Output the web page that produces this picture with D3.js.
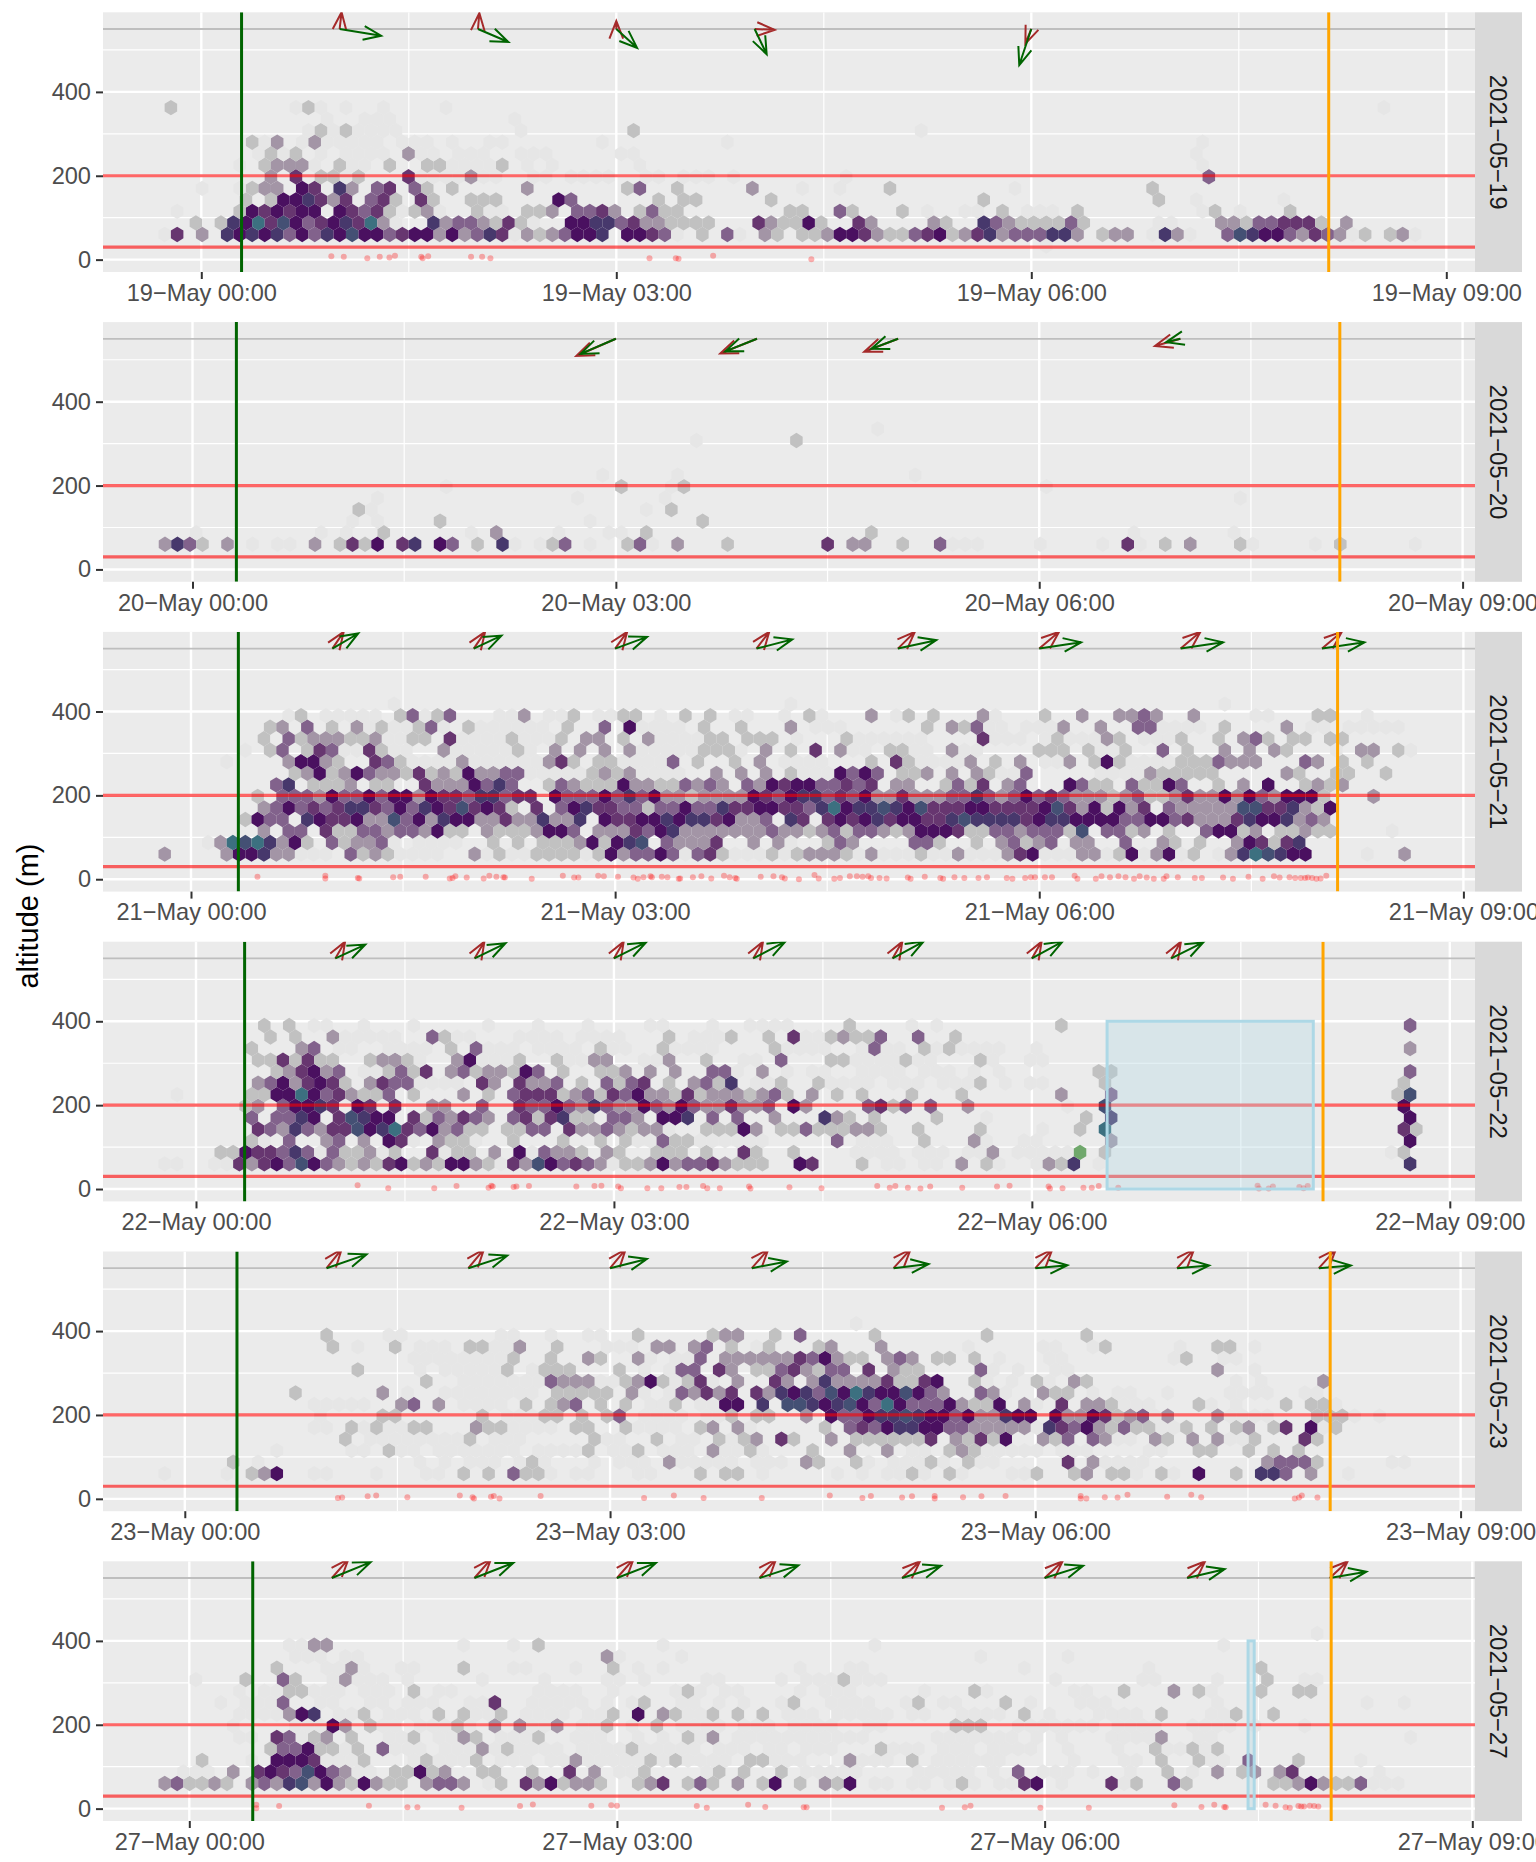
<!DOCTYPE html>
<html>
<head>
<meta charset="utf-8">
<script src="https://d3js.org/d3.v7.min.js"></script>
<style>
  html, body { margin: 0; padding: 0; background: #fff; overflow: hidden; }
  svg { display: block; font-family: "Liberation Sans", Arial, sans-serif; }
</style>
</head>
<body>
<svg id="chart" width="1536" height="1862"></svg>
<script>
// hex rows: index = altitude row, tokens are "column:counts" (one hex digit per neighbouring hex)
const hex19 = [
  "70:1",
  "0:15 3:3 5:76767464768664566363475 28:13234667 37:66541 43:2 45:41 48:32 51:22 53:366532245623573444773 75:233 79:1731 85:487664354312 98:23 100:1",
  "2:2 4:2 5:769 8:586 11:4 12:567 15:593 18:1 21:7 22:34432 27:5 28:21 32:6677 36:45332 41:222 47:5 48:32 50:2 51:62 55:53 61:32 65:743222 71:24 73:2 79:11 84:332 87:44555 92:2 94:3",
  "1:1 6:2 7:65656 12:6 14:6545 18:2 20:23 25:211 29:2 30:23 33:445 36:3 38:242 41:2 50:22 54:42 59:2 61:1 64:11 67:2 69:111 73:2 83:12 86:1 90:2",
  "6:2 8:2 9:66753 14:5 16:45 18:2 20:52 24:22 26:2 31:64 39:2 41:22 48:2 65:2 79:2 82:1 89:1",
  "3:1 6:1 7:2 8:33 11:65 14:73 17:45 20:42 23:2 29:3 37:24 41:2 47:3 51:1 54:1 58:2 68:1 79:2",
  "8:3 10:5 12:22 15:2 19:5 24:3 32:11 34:1 35:1 38:11 41:111 45:1 54:1 83:4",
  "8:2 9:333 14:2 18:2 21:22 27:2 29:1 31:1 38:1 83:1",
  "7:12 10:2 19:3 23:1 30:1 36:11 82:1",
  "7:2 9:3 12:3 21:1 27:1 35:1 45:1 83:1",
  "12:2 14:2 16:11 28:1 37:2 60:1",
  "17:1 28:1",
  "0:2 10:121 14:1 17:1 22:1 97:1"
];
const hex20 = [
  "",
  "0:3742 5:3 7:1 9:11 12:3 14:2526 19:57 22:64 25:2 27:71 30:124 34:1 37:241 41:3 45:2 53:5 55:33 59:2 62:4111 70:1 75:1 77:51 80:2 82:3 86:21 92:1 94:2 100:1",
  "2:1 12:1 14:1 17:2 24:1 26:3 31:1 35:1 36:1 38:2 56:2 77:1 85:1",
  "15:1 17:1 22:2 34:1 43:2",
  "15:21 38:1 40:2",
  "17:1 33:1 40:1 86:1",
  "22:1 36:2 40:12 70:1",
  "35:1 41:1 60:1",
  "",
  "",
  "42:1 50:2",
  "57:1"
];
const hex21 = [
  "",
  "0:3 5:36673 10:3111 15:42321 20:111 25:31211 30:2222126344 40:6414521112 50:1233321311 60:1211311135 70:6111331261 80:3612 85:13798 90:766 97:1 100:3",
  "3:139897362 13:423341 20:1111 26:2 28:2 30:2223 34:62678 40:43335 47:3 49:31 53:243 60:44 62:2 65:2 67:34234 73:33 77:4 80:32 83:2 86:3652 90:57",
  "8:3 10:44 13:52244 18:3443 22:622 26:3222 30:3664 35:333 38:5467 42:3333333 49:43 51:3 52:234244 58:323666 64:522443 70:4442 74:8 76:44 78:23 81:2 84:46623 90:22322 99:1",
  "6:2644 11:7655 15:6338 19:463 22:766 25:3353 29:373 32:37 35:655 38:66767 43:7563 47:34 50:75 53:5656 57:75665 62:5787 66:77 68:7567 72:76666 77:4466 81:4533 85:3576 89:67343 93:3",
  "8:346 11:4545 15:7754 19:647 22:658 25:5652 30:5 32:467 35:55442 40:4464 44:4755 48:66554 53:79 55:677 58:87685 63:55665 68:5556 72:853 75:626 78:35 81:43333 86:388 89:5573 93:26",
  "7:2 9:4443 13:644 16:64 18:663 21:655 24:4774 28:55 31:6444 35:64 37:7463 41:323 44:33 46:3654 50:6774 54:5463 58:353 61:33447 66:434 69:6454 73:33323 78:42235 83:3363 87:6436 91:662 97:3",
  "9:47 12:2223 17:22 21:5333 25:6474 31:243222 37:633224 43:343 47:436 50:56644 55:54 57:5 59:33 63:2425 68:3 69:4 73:6422 78:42264 85:2 87:3 89:6 92:2323",
  "10:236 13:236 16:4332 20:5232 24:6334 28:4 34:2323 44:3 46:3 48:3 50:2 54:6464 59:223 63:3 65:32 69:4 79:322222 90:32 94:22 98:2",
  "10:36632 17:542 24:3 31:352 35:22 41:4 43:2 46:2 48:3 57:2 59:52 65:3 67:2 69:3 73:3 75:262 82:22243 87:33 92:43 95:2 97:2",
  "8:24 11:254 16:52 22:3 28:2 31:3 33:3 35:3 37:3 43:222 48:3 50:2 52:5 54:3 58:22 63:3 70:222 74:2 77:2 80:4 82:2 85:3 87:3 89:32 96:33 99:21",
  "8:2 10:42333223 20:22 23:5 28:2 32:2 34:33 37:2 39:3 44:22 47:222 55:2 66:5 71:12 76:32 82:2 85:2 87:342 91:22 94:22",
  "8:23 11:4 13:2 15:3 17:2 20:24 24:2 32:2 35:4 37:6 43:2 46:2 50:3 61:2 63:324 72:3 75:3 78:44 85:2 90:3 95:11111",
  "10:12 13:11111 19:24124 27:113 31:112 35:11 37:22 40:1 42:2 44:2 46:11 50:1 52:21 57:3 59:12 62:2 66:31 71:2 74:3 77:3343 83:3 88:11 93:22 97:1",
  "18:1 50:1 85:1"
];
const hex22 = [
  "",
  "0:11 4:115356486432325623266321538645431223634453222 51:65 56:2 58:11 61:11 64:3 66:21 70:1327 75:1 100:7",
  "4:226554741 13:422312 21:5122 26:3 28:614332 35:32 39:222 43:2 46:52 50:2 66:3 73:b 75:2 98:12",
  "7:2 10:4 13:34 16:3 18:65 22:322 28:2 32:2 35:2 37:2 40:422 44:1 46:1 54:4 61:2 65:3 76:3 100:6",
  "7:543743 13:5586795 20:4 21:6342 25:2 27:2244 32:533432 38:33 40:1 43:222 46:63 49:2243 52:2223 56:32 60:2 65:2 70:1 73:2 75:9 99:52",
  "7:4 9:44 11:76 14:5876 18:6 20:524354 26:3 28:45257 33:22 36:443 40:667 44:4 46:4 49:3 53:732 57:2 62:2 66:1 74:2 76:7 100:6",
  "6:23 9:46675 15:65 18:5 21:33 25:4 28:54464 33:3743 37:3 38:64 40:36433 45:533 48:4 50:63 56:452 59:4 61:4 64:3 72:1 75:8 99:6",
  "1:1 7:2266 11:964532 17:24 20:2 24:3 26:2 28:455523 34:42 36:546332 42:523333 47:2349 50:2 52:3 54:2 56:2 60:2 64:2 72:3 76:4 99:28",
  "7:3463 11:5652 16:3544 25:53 28:5334 33:2 35:4245 40:2 42:342 45:7 49:2 52:2 65:2 75:2 99:2",
  "9:235 12:634 18:2425 23:342 26:33 28:264 32:2 35:223 39:3 41:3 44:44 48:3 75:22 100:4",
  "7:2252 11:522 16:2332 23:36 28:2 31:2 34:33 40:3 43:2 49:4 53:22 59:2 65:2",
  "7:2 11:34 23:2 25:4 35:2 40:2 49:2 57:4 61:2 63:2 100:3",
  "8:2 10:2 13:3 21:42 40:2 45:2 48:2 50:5 53:23224 60:4 63:2",
  "8:2 10:2 12:11 16:1 20:1 26:1 30:1 34:1 39:11 44:1 47:1111 55:2 60:1 62:1 72:2 100:4"
];
const hex23 = [
  "",
  "0:1 5:1 7:236 12:11 17:1 21:11 24:2 26:2 28:4221 33:11 38:11 43:2 45:22 48:1 54:1 56:1 58:11 60:21 63:21 68:11 70:2 73:23 76:22 78:1 80:21 83:6 86:2 88:774 92:3 95:1",
  "5:2 7:1 22:1 26:1 28:121 34:1 37:1 40:3 42:1 45:1 48:1 51:32 55:2 61:2 64:2 72:5 74:3 76:1 78:1 88:34442 98:11",
  "15:11 18:211 22:1111 34:2 38:2 44:3 47:2 52:2 55:3 58:3 63:232 66:111 83:22 87:2 89:2 91:2",
  "14:2 18:11 20:1 22:11 24:2 27:1 34:2 39:2 44:2 46:23 49:52 53:3 55:222222 61:5 63:3252 67:6 70:324 74:43 79:32 82:3 84:3 87:2 91:52",
  "15:2 17:2 20:22 25:322 33:22 37:2 43:23 46:3 53:2 55:45467766 63:4433333 71:7546 75:32 77:42 79:2 82:2 84:2 86:23 89:25 92:6 94:2",
  "17:22 25:2 30:22 33:2 35:24 45:2 47:22 51:3 53:644 56:677876 62:6463 66:3 67:766 71:633 74:6523 78:4 80:3 84:3 92:222",
  "14:111 19:34 22:3 29:2 31:234 35:2 37:2 41:2 45:66 48:7 50:887 53:678 56:649 59:6444 63:632 66:26 69:3 72:5 74:332 83:2 90:2 92:22",
  "10:2 17:3 26:1111 31:22222 37:3 41:43535 47:537 50:674869 56:766 59:864 62:3 65:43 70:322",
  "21:2 26:11111 31:4333 37:236 40:2 42:25 46:3 49:53 52:3 53:733 56:3 57:352256 65:2 70:2 73:32 93:3",
  "15:2 22:11111 27:2 30:222 36:2 41:44 44:53 47:22 49:45 51:324 54:4 56:5 58:322 65:4 84:3",
  "20:1111 28:2 31:2 34:32 38:3 43:4 45:33333 50:354632 56:2 58:343 62:22 65:2 82:2",
  "13:2 18:2 20:111 24:22 28:3 31:2 39:33 42:34 45:2 48:2 52:23 57:3 75:2 84:22",
  "13:2 18:11 27:11 31:1 34:11 38:2 44:233 49:2 51:4 57:2 66:2 74:2",
  "55:1"
];
const hex27 = [
  "",
  "0:342232 7:343 10:7836 14:3 15:2632 18:2 19:2 21:344 24:3 26:1 27:2 29:536 32:2332 38:235 42:242 46:3 48:26 51:2 53:326 57:11 60:11 63:121 67:11 69:56 72:1 76:512 81:42 89:2236 93:322 96:4111",
  "1:111 5:3 7:5654 11:86 13:43 16:1 18:2262 22:3 25:22 29:2 32:5 34:3 36:112 43:1 44:2 46:2 49:2 51:111 66:1 68:4 74:1 77:1 80:2 82:1 84:3 86:23 89:35 97:1",
  "3:2 7:1 9:6665 16:2 21:2 25:2 33:3 39:2 41:2 47:22 55:31 60:2 64:11 80:2 83:2 87:4 91:2 96:1",
  "8:24462 13:2 15:2 17:4 25:3 27:2 35:112 41:1 57:2111 79:2 82:2 84:2",
  "9:54 12:23 15:2 20:2 24:32 30:2 42:2 44:3 56:1 65:1 67:11 70:1 72:1 80:3 100:1",
  "5:1 13:63 16:2 23:2 26:3 28:3 31:3 35:2 39:2 52:1 63:222 72:111 91:1",
  "10:367 16:2 22:2 24:2 27:2 36:2 38:6 40:32 44:2 46:2 48:2 52:1 56:111 61:1 64:111 69:2 71:1 77:11 80:2 86:2 89:2",
  "4:1 9:4 17:1 20:1 26:5 38:2 50:2 59:12 67:2 96:1 99:1",
  "6:1 10:22 20:2 42:2 65:2 77:2 81:3 83:2 88:2 91:22",
  "2:1 6:2 9:42 14:3 54:2 88:2 91:11",
  "9:2 15:3 24:2 36:2 88:2",
  "10:111 35:3 65:1",
  "10:11 12:33 24:1 28:1 30:2 40:1 57:1 85:1",
  "92:1"
];

// the palest single-count hexes, laid under the rows above
const faint19 = ["", "", "", "19:1 22:1 30:11", "", "", "14:1 20:1111 25:11 29:11", "6:1 12:1 15:11 23:1111", "9:11 12:1 14:1111 20:11 24:11 28:11", "8:1 11:1 13:1111 17:1 19:11 23:1 26:1", "11:1 13:1111 17:11", "13:1 16:111"];
const faint21 = ["", "", "", "", "", "", "", "", "20:11 29:11111 38:1111 51:111 60:11 66:111 75:1111", "5:1 20:1111 25:111111 37:1111 50:1111 61:1111 71:11 78:1111", "6:1 14:11 18:11 23:11111 29:1 38:111111 45:11 55:11 60:11 64:11 75:11 94:1", "14:11 18:11 24:1111 29:111 40:1111 51:1 56:111111 67:111 73:111 79:111", "16:1111 21:11 25:111111 38:1111 52:111 66:11 69:1111 80:1111 92:11"];
const faint22 = ["", "", "16:1 23:1 55:1111 60:111 64:111 68:11111", "8:1 20:1 24:11 38:11 43:111111 56:111 66:1 69:11", "", "", "", "", "20:1111 47:111 53:1111 58:111 62:111 67:1 69:11", "16:11 45:11 50:1 52:11 56:1111 61:111 65:1 67:1", "19:11 25:111 31:11111 38:11 46:11 55:1111 60:11 66:1 69:11", "14:11 18:1111 26:111 30:1111 36:11 41:1111 50:1111 56:1111 62:11 64:1111 70:1", "14:11111 21:1111 28:1111 33:1111 42:111 51:1111"];
const faint23 = ["", "", "20:1 24:11 36:111 41:1 43:111 47:111 56:1 58:111 62:1 65:11 75:111", "9:1 22:111 26:111 30:1111 36:111 40:111 45:11 48:1 60:11 66:1 68:111 72:111 79:11", "16:111 20:111 26:111 35:11 41:11 45:1 67:1 76:11 80:1 85:11", "12:11 16:1 18:111 28:1111 38:1111 47:1 68:1 70:1 77:11 80:11 93:11", "12:1 27:111 38:1111 43:11 78:11 85:1111 95:1 97:1", "12:11 15:11 24:1111 39:11 43:11 69:11 77:111 84:1 86:1 94:1", "17:1 19:1 22:1111 28:1 38:1 40:1 65:1 67:1 74:1 76:11 80:1 85:111 88:1 91:11", "24:1111 28:11 35:11 41:1 44:1 66:1 68:1 71:1 86:1 88:1", "20:1 23:1111 29:1 38:1 40:1 45:1 60:1 66:1 68:1 71:11 87:1", "20:1 22:111 25:1111 39:1 41:11 67:1 71:11 81:1 85:11", "15:1 20:1 26:111 35:111 47:1 64:1 70:11 74:1 81:1 87:1"];
const faint27 = ["", "", "14:11 52:1111 60:11111 70:111", "12:1111 20:1 22:1111 27:111 31:111111 37:1111 42:1111 49:111 51:1 56:111 62:111 66:11 73:1 77:11 84:11", "12:111 18:111 22:111 26:1 28:1111 33:1111 38:111 42:1 44:111 48:11 51:111 62:111 66:1111 72:1 76:1 80:11 83:1", "6:11 11:11 18:111 22:11 27:1111 33:111 38:1 40:1 43:1 46:111 49:111 52:1111 62:111 66:11 76:1111 83:11", "10:111 17:11 20:111 24:1 29:11 33:11 37:1 41:1111 46:111 50:1111 56:11 68:1111 76:1111 82:1111 87:1", "6:1111 14:11 18:111 25:111 29:1111 34:11 38:1 42:11 50:111 54:1111 60:1 67:1 75:111 84:11", "6:111 12:11 16:11 19:111 24:11 29:11111 35:1 37:11 41:11 44:1 46:1 49:1 53:1111 62:11 69:1 73:111 84:1", "8:111 12:111 16:111 22:11 30:1111 36:1 41:111 45:11 51:1 53:111 61:1 66:1 73:11 84:1", "13:1 15:111 19:1 25:1 30:1 35:11 38:1 43:11 49:1 51:111 55:111 71:1 78:11 84:1", "9:1 13:1111 19:11 28:11 33:1 38:1 40:1 51:1 55:11 69:1 79:1", "10:111 14:11 36:1 41:1 72:1"];

// red points near the ground: hour after midnight and altitude
const pointHours19 = [0.94, 1.03, 1.20, 1.29, 1.36, 1.40, 1.59, 1.60, 1.64, 1.95, 2.03, 2.09, 3.24, 3.43, 3.45, 3.70, 4.41];
const pointAlts19 = [8, 7, 3, 7, 5, 9, 7, 3, 8, 7, 7, 3, 3, 3, 2, 9, 1];
const pointHours21 = [0.47, 0.95, 0.95, 1.18, 1.19, 1.43, 1.48, 1.66, 1.83, 1.85, 1.87, 1.95, 2.07, 2.11, 2.16, 2.21, 2.22, 2.41, 2.63, 2.71, 2.74, 2.88, 2.92, 3.02, 3.13, 3.16, 3.20, 3.25, 3.26, 3.33, 3.37, 3.45, 3.46, 3.55, 3.61, 3.68, 3.77, 3.81, 3.85, 3.86, 4.03, 4.12, 4.18, 4.20, 4.30,
  4.41, 4.44, 4.55, 4.59, 4.66, 4.71, 4.75, 4.79, 4.81, 4.87, 4.92, 5.07, 5.09, 5.19, 5.30, 5.32, 5.40, 5.47, 5.57, 5.63, 5.77, 5.81, 5.90, 5.94, 5.97, 6.04, 6.09, 6.25, 6.27, 6.40, 6.44, 6.50, 6.56, 6.61, 6.67, 6.71, 6.76, 6.81, 6.88, 6.90, 6.98, 7.10, 7.15, 7.30, 7.37, 7.48, 7.58, 7.66, 7.70, 7.77, 7.81, 7.85, 7.88, 7.90, 7.93, 7.96, 7.99, 8.03];
const pointAlts21 = [6, 8, 2, 3, 2, 5, 6, 6, 2, 3, 7, 4, 2, 8, 6, 5, 4, 1, 8, 4, 4, 8, 7, 6, 4, 1, 5, 7, 5, 6, 5, 1, 2, 5, 7, 2, 8, 5, 3, 1, 6, 7, 5, 2, 0,
  10, 2, 1, 3, 7, 7, 6, 7, 3, 3, 2, 4, 1, 6, 3, 1, 5, 3, 3, 5, 3, 1, 3, 5, 5, 5, 5, 8, 1, 1, 7, 5, 7, 5, 1, 7, 4, 1, 1, 7, 5, 3, 3, 4, 1, 6, 1, 7, 4, 5, 3, 3, 3, 4, 3, 1, 2, 8];
const pointHours22 = [1.16, 1.38, 1.71, 1.87, 2.10, 2.12, 2.13, 2.28, 2.30, 2.39, 2.73, 2.86, 2.91, 3.03, 3.05, 3.24, 3.34, 3.47, 3.52, 3.64, 3.67, 3.76, 3.97, 3.98, 4.26,
  4.49, 4.89, 4.98, 5.02, 5.11, 5.20, 5.27, 5.50, 5.75, 5.84, 6.12, 6.13, 6.22, 6.37, 6.43, 6.48, 6.62, 7.62, 7.63, 7.70, 7.73, 7.92, 7.95, 7.98];
const pointAlts22 = [9, 2, 2, 7, 3, 8, 6, 5, 6, 7, 6, 7, 8, 6, 2, 2, 2, 5, 5, 7, 2, 2, 6, 1, 4,
  2, 7, 3, 7, 3, 1, 6, 3, 6, 8, 6, 1, 2, 3, 3, 7, 3, 8, 1, 1, 6, 5, 2, 7];
const pointHours23 = [1.08, 1.11, 1.29, 1.35, 1.57, 1.94, 2.03, 2.04, 2.16, 2.18, 2.22, 2.51, 3.24, 3.45, 3.66, 4.07,
  4.55, 4.78, 4.84, 5.06, 5.13, 5.29, 5.29, 5.49, 5.62, 5.79, 6.32, 6.32, 6.36, 6.49, 6.58, 6.65, 6.93, 7.10, 7.17, 7.83, 7.86, 7.88, 7.99];
const pointAlts23 = [2, 3, 6, 8, 4, 8, 4, 1, 5, 7, 1, 7, 2, 8, 2, 2,
  8, 2, 7, 3, 6, 7, 1, 4, 6, 7, 7, 1, 1, 4, 3, 10, 5, 10, 4, 1, 3, 8, 3];
const pointHours27 = [0.47, 0.47, 0.63, 1.26, 1.53, 1.60, 1.91, 2.32, 2.41, 2.82, 2.96, 3.00, 3.56, 3.63, 3.92, 4.04,
  4.31, 4.33, 5.28, 5.44, 5.48, 5.97, 6.31, 6.91, 7.10, 7.19, 7.26, 7.27, 7.55, 7.62, 7.69, 7.72, 7.78, 7.80, 7.82, 7.86, 7.89, 7.92];
const pointAlts27 = [9, 1, 6, 7, 3, 3, 2, 6, 10, 7, 8, 7, 6, 2, 9, 4,
  3, 3, 2, 3, 7, 2, 2, 8, 4, 9, 4, 3, 9, 7, 3, 2, 6, 5, 5, 7, 6, 5];

// wind arrows, one start hour per arrow, tip offset in hours and metres
const arrowHours19 = [1, 2, 3, 4, 6];
const greenDx19 = [0.30, 0.22, 0.15, 0.087, -0.087];
const greenDy19 = [-16, -31, -45, -60, -86];
const redDx19 = [0.014, 0.01, 0, 0.145, -0.043];
const redDy19 = [40, 38, 19, -2, -35];
const arrowHours20 = [3, 4, 5, 7];
const greenDx20 = [-0.25, -0.225, -0.19, -0.10];
const greenDy20 = [-36, -30, -24, -8];
const redDx20 = [-0.28, -0.26, -0.24, -0.18];
const redDy20 = [-41, -35, -31, -17];
const arrowHours21 = [1, 2, 3, 4, 5, 6, 7, 8];
const greenDx21 = [0.183, 0.196, 0.226, 0.253, 0.272, 0.296, 0.30, 0.30];
const greenDy21 = [36, 31, 28, 22, 20, 15, 15, 15];
const redDx21 = [0.08, 0.08, 0.085, 0.09, 0.12, 0.14, 0.14, 0.14];
const redDy21 = [40, 40, 40, 40, 40, 40, 40, 40];
const arrowHours22 = [1, 2, 3, 4, 5, 6, 7];
const greenDx22 = [0.215, 0.222, 0.23, 0.23, 0.222, 0.22, 0.23];
const greenDy22 = [33, 36, 38, 40, 40, 40, 38];
const redDx22 = [0.07, 0.07, 0.07, 0.07, 0.07, 0.07, 0.07];
const redDy22 = [40, 40, 40, 40, 40, 40, 40];
const arrowHours23 = [1, 2, 3, 4, 5, 6, 7, 8];
const greenDx23 = [0.282, 0.275, 0.26, 0.247, 0.247, 0.226, 0.226, 0.226];
const greenDy23 = [33, 30, 22, 16, 10, 7, 6.5, 6.5];
const redDx23 = [0.106, 0.11, 0.11, 0.116, 0.12, 0.12, 0.12, 0.12];
const redDy23 = [45, 45, 45, 45, 45, 45, 45, 45];
const arrowHours27 = [1, 2, 3, 4, 5, 6, 7, 8];
const greenDx27 = [0.273, 0.273, 0.273, 0.273, 0.273, 0.27, 0.263, 0.257];
const greenDy27 = [38, 36, 36, 30, 29, 29, 21, 15];
const redDx27 = [0.116, 0.116, 0.116, 0.116, 0.126, 0.126, 0.126, 0.126];
const redDy27 = [45, 45, 45, 45, 40, 40, 40, 40];

const dates = ["2021-05-19", "2021-05-20", "2021-05-21", "2021-05-22", "2021-05-23", "2021-05-27"];
const sunsetHours = [0.291, 0.311, 0.335, 0.349, 0.368, 0.445];
const sunriseHours = [8.15, 8.13, 8.11, 8.09, 8.08, 8.01];
const hexStartHours = [-0.265, -0.195, -0.186, -0.225, -0.142, -0.1725];
const hexStepHours = [0.0904, 0.0886, 0.0877, 0.0894, 0.0879, 0.0874];
const tickStart = [98.3, 89.5, 88, 93, 81.8, 86.3];
const tickEnd = [1343.3, 1359.6, 1360.4, 1346.8, 1357.6, 1369.3];
const gaps = [null, null, null, [6.54, 8.02], null, [7.427, 7.47]];

const tickHours = [0, 3, 6, 9];
const minorHours = [1.5, 4.5, 7.5];
const altTicks = [0, 200, 400];
const altMinor = [100, 300, 500];
const altLimits = [30, 200];
const altTop = 550;
const rowStep = 27.5;
const rowBase = 32.5;

// fill per count, from almost background through purple to teal and green
const hexColor = d3.scaleOrdinal()
  .domain([1, 2, 3, 4, 5, 6, 7, 8, 9, 10, 11])
  .range(["#e6e6e6", "#c1c1c1", "#a395a6", "#82628c", "#673670", "#4a1060", "#47386c", "#445074", "#3c7080", "#38908a", "#70a86c"]);

const panels = [
  { hex: hex19, faint: faint19, hours: pointHours19, alts: pointAlts19, arrows: arrowHours19, gx: greenDx19, gy: greenDy19, rx: redDx19, ry: redDy19 },
  { hex: hex20, faint: [], hours: [], alts: [], arrows: arrowHours20, gx: greenDx20, gy: greenDy20, rx: redDx20, ry: redDy20 },
  { hex: hex21, faint: faint21, hours: pointHours21, alts: pointAlts21, arrows: arrowHours21, gx: greenDx21, gy: greenDy21, rx: redDx21, ry: redDy21 },
  { hex: hex22, faint: faint22, hours: pointHours22, alts: pointAlts22, arrows: arrowHours22, gx: greenDx22, gy: greenDy22, rx: redDx22, ry: redDy22 },
  { hex: hex23, faint: faint23, hours: pointHours23, alts: pointAlts23, arrows: arrowHours23, gx: greenDx23, gy: greenDy23, rx: redDx23, ry: redDy23 },
  { hex: hex27, faint: faint27, hours: pointHours27, alts: pointAlts27, arrows: arrowHours27, gx: greenDx27, gy: greenDy27, rx: redDx27, ry: redDy27 }
];

const svg = d3.select("svg#chart");
const left = 103, panelW = 1372, panelH = 259.7, stripW = 47, firstTop = 12.3, period = 309.8;
const parseDay = d3.timeParse("%Y-%m-%d");
const stamp = d3.timeFormat("%d\u2212%b %H:%M");

const y = d3.scaleLinear().domain([-29.5, 589.8]).range([panelH, 0]);

function parseRows(rows, faint, idx) {
  const cells = [];
  rows.forEach((row, r) => {
    const byCol = new Map();
    // a real count overwrites the pale hex under it
    ((faint[r] || "") + " " + row).split(" ").filter(t => t).forEach(tok => {
      const [start, counts] = tok.split(":");
      counts.split("").forEach((c, i) => byCol.set(+start + i, parseInt(c, 16)));
    });
    byCol.forEach((count, col) => {
      const off = r % 2 === 0 ? 0.5 : 0;
      cells.push({
        hour: hexStartHours[idx] + (col + off) * hexStepHours[idx],
        alt: rowBase + r * rowStep,
        count: count
      });
    });
  });
  return cells;
}

panels.forEach((p, i) => {
  const top = firstTop + i * period;
  const g = svg.append("g").attr("transform", `translate(${left},${top})`);
  const x = d3.scaleLinear().domain([0, 9]).range([tickStart[i], tickEnd[i]]);
  const halfW = hexStepHours[i] / 2;

  g.append("clipPath").attr("id", "clip" + i)
    .append("rect").attr("width", panelW).attr("height", panelH);

  g.append("rect").attr("width", panelW).attr("height", panelH).attr("fill", "#ebebeb");

  const body = g.append("g").attr("clip-path", `url(#clip${i})`);

  // grid
  body.selectAll(".minY").data(altMinor).join("line")
    .attr("x2", panelW).attr("y1", d => y(d)).attr("y2", d => y(d))
    .attr("stroke", "#fff").attr("stroke-width", 1.2);
  body.selectAll(".minX").data(minorHours).join("line")
    .attr("x1", d => x(d)).attr("x2", d => x(d)).attr("y2", panelH)
    .attr("stroke", "#fff").attr("stroke-width", 1.2);
  body.selectAll(".majY").data(altTicks).join("line")
    .attr("x2", panelW).attr("y1", d => y(d)).attr("y2", d => y(d))
    .attr("stroke", "#fff").attr("stroke-width", 2.4);
  body.selectAll(".majX").data(tickHours).join("line")
    .attr("x1", d => x(d)).attr("x2", d => x(d)).attr("y2", panelH)
    .attr("stroke", "#fff").attr("stroke-width", 2.4);

  // hexagons
  const hexPath = d => {
    const hh = rowStep * 2 / 3;
    const pts = [[0, hh], [halfW, hh / 2], [halfW, -hh / 2], [0, -hh], [-halfW, -hh / 2], [-halfW, hh / 2]];
    return "M" + pts.map(q => `${x(d.hour + q[0]).toFixed(2)},${y(d.alt + q[1]).toFixed(2)}`).join("L") + "Z";
  };
  body.append("g").selectAll("path").data(parseRows(p.hex, p.faint, i)).join("path")
    .attr("d", hexPath)
    .attr("fill", d => hexColor(d.count));

  // red points
  body.append("g").selectAll("circle").data(p.hours).join("circle")
    .attr("cx", d => x(d))
    .attr("cy", (d, j) => y(p.alts[j]))
    .attr("r", 3)
    .attr("fill", "red").attr("fill-opacity", 0.3);

  // altitude limits
  body.selectAll(".limit").data(altLimits).join("line")
    .attr("x2", panelW).attr("y1", d => y(d)).attr("y2", d => y(d))
    .attr("stroke", "red").attr("stroke-opacity", 0.6).attr("stroke-width", 3.2);
  body.append("line").attr("x2", panelW).attr("y1", y(altTop)).attr("y2", y(altTop))
    .attr("stroke", "#bebebe").attr("stroke-width", 1.8);

  // wind arrows, red below green
  const drawArrow = (dxs, dys, color) => {
    const head = 19, ang = 0.37;
    const arrowPath = (h, j) => {
      const x0 = x(h), y0 = y(altTop);
      const x1 = x(h + dxs[j]), y1 = y(altTop + dys[j]);
      const a = Math.atan2(y0 - y1, x0 - x1);
      const b1 = [x1 + head * Math.cos(a + ang), y1 + head * Math.sin(a + ang)];
      const b2 = [x1 + head * Math.cos(a - ang), y1 + head * Math.sin(a - ang)];
      return `M${x0},${y0}L${x1},${y1}M${b1}L${x1},${y1}L${b2}`;
    };
    body.append("g").selectAll("path").data(p.arrows).join("path")
      .attr("d", arrowPath)
      .attr("fill", "none").attr("stroke", color).attr("stroke-width", 2);
  };
  drawArrow(p.rx, p.ry, "#a52a2a");
  drawArrow(p.gx, p.gy, "#006400");

  // no-data block
  if (gaps[i]) {
    body.append("rect")
      .attr("x", x(gaps[i][0])).attr("width", x(gaps[i][1]) - x(gaps[i][0]))
      .attr("y", y(400)).attr("height", y(0) - y(400))
      .attr("fill", "lightblue").attr("fill-opacity", 0.3)
      .attr("stroke", "lightblue").attr("stroke-width", 3);
  }

  // sunset and sunrise
  body.append("line").attr("x1", x(sunsetHours[i])).attr("x2", x(sunsetHours[i])).attr("y2", panelH)
    .attr("stroke", "darkgreen").attr("stroke-width", 3);
  body.append("line").attr("x1", x(sunriseHours[i])).attr("x2", x(sunriseHours[i])).attr("y2", panelH)
    .attr("stroke", "orange").attr("stroke-width", 3);

  // axes
  const day = parseDay(dates[i]);
  const xAxis = d3.axisBottom(x).tickValues(tickHours)
    .tickFormat(h => stamp(d3.timeHour.offset(day, h))).tickSize(7).tickPadding(5);
  const yAxis = d3.axisLeft(y).tickValues(altTicks).tickSize(7).tickPadding(5);
  const gx = g.append("g").attr("transform", `translate(0,${panelH})`).call(xAxis);
  const gy = g.append("g").call(yAxis);
  [gx, gy].forEach(a => {
    a.select(".domain").remove();
    a.selectAll("line").attr("stroke", "#333").attr("stroke-width", 2);
    a.selectAll("text").attr("fill", "#4d4d4d").style("font-size", "23.6px")
      .style("font-family", "'Liberation Sans'");
  });

  // strip
  g.append("rect").attr("x", panelW).attr("width", stripW).attr("height", panelH).attr("fill", "#d9d9d9");
  g.append("text")
    .attr("transform", `translate(${panelW + stripW / 2},${panelH / 2}) rotate(90)`)
    .attr("text-anchor", "middle").attr("dy", "0.35em")
    .attr("fill", "#1a1a1a").style("font-size", "24px")
    .text(dates[i].replace(/-/g, "\u2212"));
});

svg.append("text")
  .attr("transform", "translate(28,916) rotate(-90)")
  .attr("text-anchor", "middle").attr("dy", "0.35em")
  .attr("fill", "#000").style("font-size", "29px")
  .text("altitude (m)");
</script>
</body>
</html>
